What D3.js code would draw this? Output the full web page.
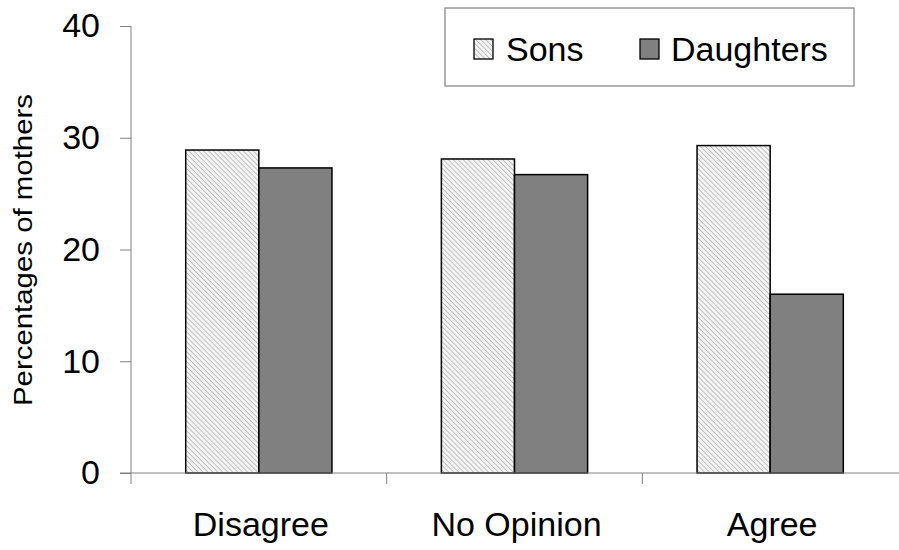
<!DOCTYPE html>
<html>
<head>
<meta charset="utf-8">
<script src="https://cdn.jsdelivr.net/npm/d3@7"></script>
<style>
  body { margin: 0; background: #fff; }
  text { font-family: "Liberation Sans", Arial, sans-serif; fill: #000; }
</style>
</head>
<body>
<svg id="chart" width="899" height="550"></svg>
<script>
let width = 899;
let height = 550;

let categories = ["Disagree", "No Opinion", "Agree"];
let seriesNames = ["Sons", "Daughters"];
let sons = [28.9, 28.1, 29.3];
let daughters = [27.3, 26.7, 16.0];
let yTicks = [0, 10, 20, 30, 40];

let margin = { top: 26, right: 1, bottom: 77, left: 131 };

let data = categories.map((c, i) => ({ category: c, Sons: sons[i], Daughters: daughters[i] }));

let svg = d3.select("#chart");

// hatch pattern for sons
let defs = svg.append("defs");
let pat = defs.append("pattern")
    .attr("id", "hatch")
    .attr("patternUnits", "userSpaceOnUse")
    .attr("width", 3.5)
    .attr("height", 3.5)
    .attr("patternTransform", "rotate(-45)");
pat.append("rect").attr("width", 3.5).attr("height", 3.5).attr("fill", "#f4f4f4");
pat.append("line")
    .attr("x1", 0).attr("y1", 0).attr("x2", 0).attr("y2", 3.5)
    .attr("stroke", "#a8a8a8").attr("stroke-width", 1.3);

let fills = { Sons: "url(#hatch)", Daughters: "#808080" };

let x = d3.scaleBand()
    .domain(categories)
    .range([margin.left, width - margin.right])
    .padding(0);

let barW = x.bandwidth() * 0.286;

let x1 = d3.scaleBand()
    .domain(seriesNames)
    .range([0, barW * 2]);

let y = d3.scaleLinear()
    .domain([0, 40])
    .range([height - margin.bottom, margin.top]);

// bars
let groups = svg.append("g")
    .selectAll("g")
    .data(data)
    .join("g")
    .attr("transform", d => `translate(${x(d.category) + x.bandwidth() / 2 - barW},0)`);

groups.selectAll("rect")
    .data(d => seriesNames.map(k => ({ key: k, value: d[k] })))
    .join("rect")
    .attr("x", d => x1(d.key))
    .attr("width", x1.bandwidth())
    .attr("y", d => y(d.value))
    .attr("height", d => y(0) - y(d.value))
    .attr("fill", d => fills[d.key])
    .attr("stroke", "#000")
    .attr("stroke-width", 1.5);

// y axis
let yAxis = svg.append("g")
    .attr("transform", `translate(${margin.left},0)`)
    .call(d3.axisLeft(y).tickValues(yTicks).tickSize(11).tickPadding(20))
    .call(g => g.select(".domain").attr("stroke", "#808080").attr("d", `M0,${y(40)}V${y(0)}`));
yAxis.selectAll(".tick line").attr("stroke", "#808080");
yAxis.selectAll(".tick text")
    .style("font-size", "34px")
    .style("font-family", "Liberation Sans, Arial, sans-serif")
    .attr("fill", "#000");

// x axis
let xAxis = svg.append("g")
    .attr("transform", `translate(0,${y(0)})`);
xAxis.append("line")
    .attr("x1", margin.left - 11).attr("x2", width)
    .attr("stroke", "#808080");
xAxis.selectAll("line.tk")
    .data(categories)
    .join("line")
    .attr("class", "tk")
    .attr("x1", d => x(d)).attr("x2", d => x(d))
    .attr("y1", 0).attr("y2", 11)
    .attr("stroke", "#808080");
xAxis.selectAll("text")
    .data(categories)
    .join("text")
    .attr("x", d => x(d) + x.bandwidth() / 2 + 2)
    .attr("y", 63)
    .attr("text-anchor", "middle")
    .style("font-size", "34px")
    .text(d => d);

// y label
svg.append("text")
    .attr("transform", "translate(32,250) rotate(-90)")
    .attr("text-anchor", "middle")
    .attr("textLength", 312)
    .attr("lengthAdjust", "spacingAndGlyphs")
    .style("font-size", "25px")
    .text("Percentages of mothers");

// legend
let legend = svg.append("g");
legend.append("rect")
    .attr("x", 445).attr("y", 8)
    .attr("width", 409).attr("height", 78)
    .attr("fill", "#fff")
    .attr("stroke", "#808080")
    .attr("stroke-width", 1.2);

let legendPos = [
  { key: "Sons", sx: 474, tx: 506 },
  { key: "Daughters", sx: 640, tx: 671 }
];
legend.selectAll("rect.sw")
    .data(legendPos)
    .join("rect")
    .attr("class", "sw")
    .attr("x", d => d.sx).attr("y", 39)
    .attr("width", 19).attr("height", 20)
    .attr("fill", d => fills[d.key])
    .attr("stroke", "#000")
    .attr("stroke-width", 1.3);
legend.selectAll("text")
    .data(legendPos)
    .join("text")
    .attr("x", d => d.tx).attr("y", 61)
    .style("font-size", "34px")
    .text(d => d.key);
</script>
</body>
</html>
